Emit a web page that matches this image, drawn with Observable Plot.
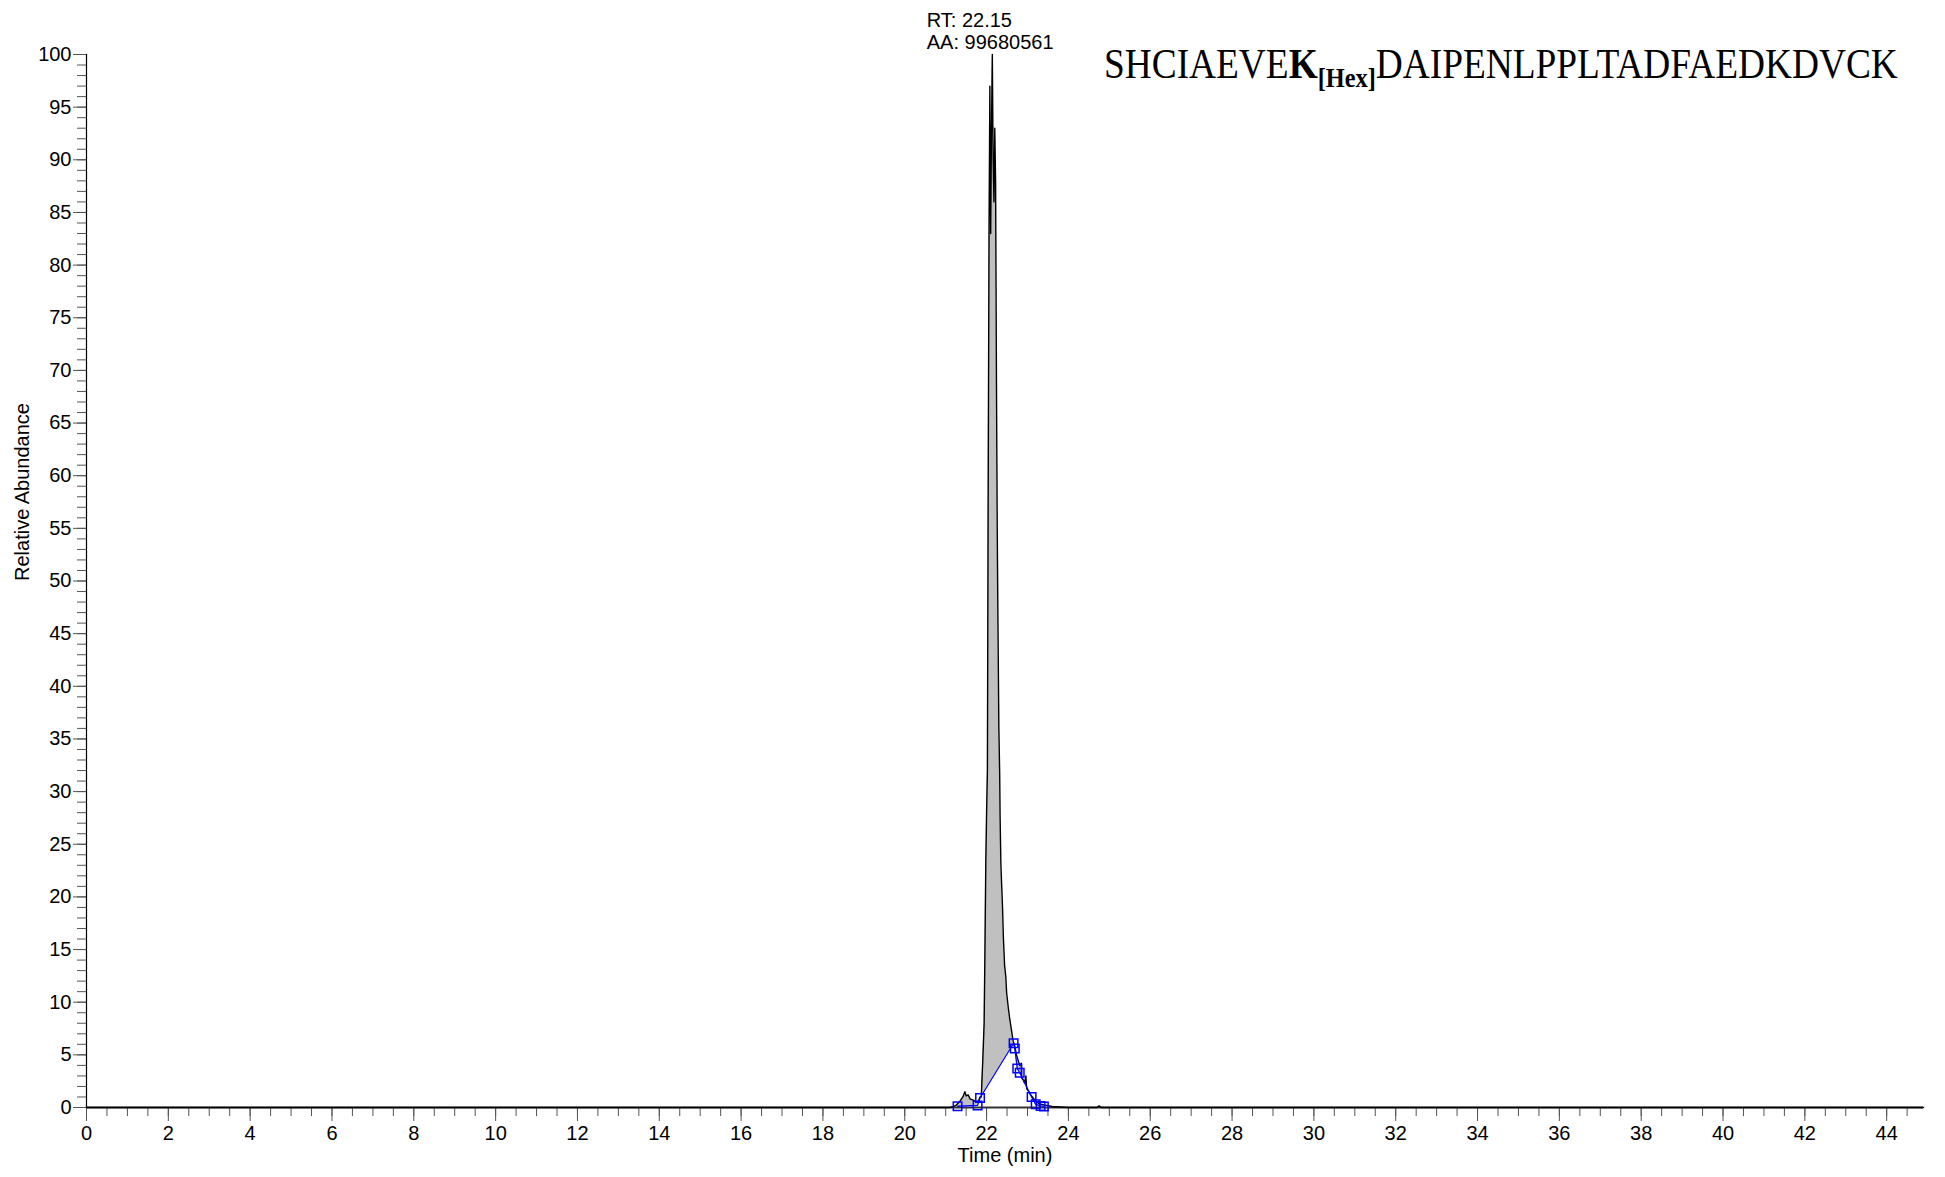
<!DOCTYPE html>
<html>
<head>
<meta charset="utf-8">
<script src="https://cdn.jsdelivr.net/npm/d3@7"></script>
<script src="https://cdn.jsdelivr.net/npm/@observablehq/plot@0.6"></script>
<style>
  html, body { margin: 0; padding: 0; background: #fff; }
  #chart { position: relative; width: 1945px; height: 1177px; }
</style>
</head>
<body>
<div id="chart"></div>
<script>
// Chromatogram trace (time in min, relative abundance %)
const times = [0, 5, 10, 15, 20, 21.1, 21.2, 21.25, 21.3, 21.35, 21.42, 21.47, 21.5, 21.55, 21.6, 21.68, 21.75, 21.8, 21.84, 21.87, 21.91, 21.94,
  21.96, 21.98, 22.00, 22.02, 22.04, 22.06, 22.08, 22.10, 22.12, 22.14, 22.16, 22.18, 22.20, 22.22, 22.24, 22.26, 22.28, 22.30,
  22.32, 22.33, 22.35, 22.37, 22.39, 22.41, 22.44, 22.47, 22.49, 22.53, 22.57, 22.61, 22.65, 22.69, 22.73, 22.77, 22.81, 22.85,
  22.86, 22.90, 22.93, 22.96, 22.98, 23.03, 23.08, 23.12, 23.18, 23.23, 23.30, 23.40, 23.47, 23.60, 23.80, 24.0, 24.7, 24.75, 24.8, 30, 35, 40, 44.9];
const abundance = [0, 0, 0, 0, 0, 0, 0.1, 0.2, 0.4, 0.6, 1.0, 1.5, 1.1, 1.2, 0.8, 0.7, 0.5, 0.6, 1.0, 1.0, 4.8, 8.0,
  15, 23, 28, 32, 60, 83, 97, 83, 93, 100, 90, 86, 93, 88, 70, 55, 45, 36,
  31.7, 27.6, 23, 21, 19, 16.2, 13.5, 12.4, 10.9, 9.5, 8.3, 7.3, 6.3, 5.8, 5.0, 4.5, 4.0, 4.2,
  2.8, 2.6, 2.3, 3.0, 1.8, 1.5, 1.2, 1.0, 0.7, 0.5, 0.35, 0.25, 0.2, 0.1, 0.05, 0, 0, 0.15, 0, 0, 0, 0, 0];

// Integration baseline (blue) vertices
const baseTimes = [21.29, 21.78, 21.84, 22.66, 22.69, 22.75, 22.81, 23.10, 23.20, 23.32, 23.40];
const baseValues = [0.12, 0.2, 0.9, 6.1, 5.6, 3.7, 3.3, 1.0, 0.3, 0.15, 0.1];

// Axis ticks
const yMajor = d3.range(0, 101, 5);
const yMinor = d3.range(0, 101, 1);
const xMajor = d3.range(0, 45, 2);
const xMinor = d3.range(0, 44.91, 0.5);

const peakLabel = "RT: 22.15\nAA: 99680561";
const peakRT = 22.15, peakAbund = 100;

const trace = times.map((t, i) => ({t, v: abundance[i]}));
const base = baseTimes.map((t, i) => ({t, v: baseValues[i]}));

// shaded region: between trace and integration baseline
const baseAt = t => {
  for (let i = 0; i < baseTimes.length - 1; i++) {
    if (t >= baseTimes[i] && t <= baseTimes[i + 1]) {
      const f = (t - baseTimes[i]) / (baseTimes[i + 1] - baseTimes[i]);
      return baseValues[i] + f * (baseValues[i + 1] - baseValues[i]);
    }
  }
  return null;
};
const traceAt = t => {
  for (let i = 0; i < times.length - 1; i++) {
    if (t >= times[i] && t <= times[i + 1]) {
      const f = (t - times[i]) / (times[i + 1] - times[i]);
      return abundance[i] + f * (abundance[i + 1] - abundance[i]);
    }
  }
  return 0;
};
const t0 = baseTimes[0], t1 = baseTimes[baseTimes.length - 1];
const areaTimes = Array.from(new Set([t0, ...times.filter(t => t > t0 && t < t1), ...baseTimes, t1])).sort((a, b) => a - b);
const areaData = areaTimes.map(t => {
  const b = baseAt(t), v = traceAt(t);
  return {t, y1: b, y2: Math.max(v, b)};
});

const font = "'Liberation Sans', Arial, Helvetica, sans-serif";

const plot = Plot.plot({
  width: 1945,
  height: 1177,
  marginLeft: 86,
  marginRight: 22,
  marginTop: 54,
  marginBottom: 70,
  x: {domain: [0, 44.9]},
  y: {domain: [0, 100]},
  style: {fontFamily: font, fontSize: "20px", color: "black", background: "white"},
  marks: [
    Plot.areaY(areaData, {x: "t", y1: "y1", y2: "y2", fill: "#c0c0c0", curve: "linear"}),
    Plot.axisY(yMinor, {tickSize: 9, tickFormat: () => "", label: null, stroke: "#555"}),
    Plot.axisY(yMajor, {tickSize: 13, tickPadding: 2, label: null, stroke: "#555", fill: "black"}),
    Plot.axisX(xMinor, {tickSize: 9, tickFormat: () => "", label: null, stroke: "#555"}),
    Plot.axisX(xMajor, {tickSize: 14, tickPadding: 4, label: null, stroke: "#555", fill: "black"}),
    Plot.ruleX([0], {y1: 0, y2: 100, stroke: "black", strokeWidth: 1.2}),
    Plot.ruleY([0], {stroke: "#333", strokeWidth: 2.2}),
    Plot.line(trace, {x: "t", y: "v", stroke: "black", strokeWidth: 1.4}),
    Plot.line(base, {x: "t", y: "v", stroke: "#0000ff", strokeWidth: 1.3}),
    Plot.dot(base, {x: "t", y: "v", symbol: "square", r: 4.8, stroke: "#0000ff", strokeWidth: 1.5, fill: "none"}),
    Plot.text([{t: peakRT, v: peakAbund}], {x: "t", y: "v", text: () => peakLabel, textAnchor: "start", lineAnchor: "bottom",
      dx: -66, dy: -6, lineHeight: 1.1, fontSize: 20, fill: "black"}),
    Plot.text(["Time (min)"], {frameAnchor: "bottom", dy: 54, fontSize: 20, fill: "black"}),
    Plot.text(["Relative Abundance"], {frameAnchor: "left", dx: -64, rotate: -90, fontSize: 20, fill: "black"})
  ]
});

document.getElementById("chart").appendChild(plot);

// Peptide sequence title (serif, with bold modified residue and subscript)
const svg = d3.select(plot);
const g = svg.append("g");
const title = g.append("text")
  .attr("x", 0).attr("y", 0)
  .attr("text-anchor", "start")
  .attr("font-family", "'Liberation Serif', 'Times New Roman', serif")
  .attr("font-size", 43)
  .attr("fill", "black");
title.append("tspan").text("SHCIAEVE");
title.append("tspan").attr("font-weight", "bold").text("K");
title.append("tspan").attr("font-weight", "bold").attr("font-size", 28).attr("dy", 9).text("[Hex]");
title.append("tspan").attr("dy", -9).text("DAIPENLPPLTADFAEDKDVCK");
const w = title.node().getComputedTextLength();
const targetW = 794;
g.attr("transform", `translate(1104,78) scale(${targetW / w},1)`);
</script>
</body>
</html>
